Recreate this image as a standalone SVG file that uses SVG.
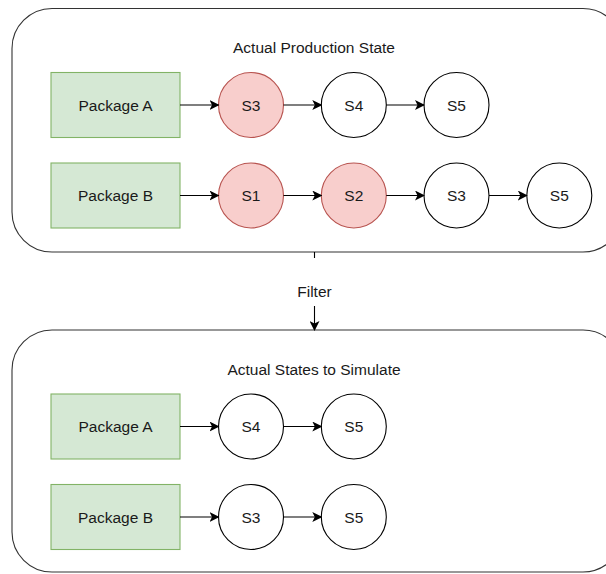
<svg xmlns="http://www.w3.org/2000/svg" width="606" height="574" viewBox="0 0 606 574">
<defs>
<marker id="arr" viewBox="0 0 10 10" refX="9" refY="5" markerWidth="10" markerHeight="10" markerUnits="userSpaceOnUse" orient="auto">
<path d="M0,0 L10,5 L0,10 L2.5,5 Z" fill="#000"/>
</marker>
<style>
text{font-family:"Liberation Sans",Arial,sans-serif;font-size:15.5px;fill:#1a1a1a;text-anchor:middle;dominant-baseline:central}
.cont{fill:#fff;stroke:#333;stroke-width:1.1}
.pkg{fill:#d5e8d4;stroke:#82b366;stroke-width:1.1}
.red{fill:#f8cecc;stroke:#b85450;stroke-width:1.1}
.wht{fill:#fff;stroke:#000;stroke-width:1.1}
.edge{stroke:#000;stroke-width:1.1;fill:none;marker-end:url(#arr)}
</style>
</defs>
<g id="top-container"><rect class="cont" x="12" y="8.5" width="611" height="243.5" rx="40" ry="40"/><text x="314" y="47">Actual Production State</text></g>
<g id="bottom-container"><rect class="cont" x="12" y="330" width="611" height="242" rx="40" ry="40"/><text x="314" y="369">Actual States to Simulate</text></g>
<g id="top-pkgA"><rect class="pkg" x="51" y="72.5" width="129" height="65"/><text x="115.5" y="105">Package A</text></g>
<g id="top-pkgB"><rect class="pkg" x="51" y="163" width="129" height="65"/><text x="115.5" y="195.5">Package B</text></g>
<g id="top-A-S3"><circle class="red" cx="251" cy="105" r="32.5"/><text x="251" y="105">S3</text></g>
<g id="top-A-S4"><circle class="wht" cx="353.8" cy="105" r="32.5"/><text x="353.8" y="105">S4</text></g>
<g id="top-A-S5"><circle class="wht" cx="456.5" cy="105" r="32.5"/><text x="456.5" y="105">S5</text></g>
<g id="top-B-S1"><circle class="red" cx="251" cy="195.5" r="32.5"/><text x="251" y="195.5">S1</text></g>
<g id="top-B-S2"><circle class="red" cx="353.8" cy="195.5" r="32.5"/><text x="353.8" y="195.5">S2</text></g>
<g id="top-B-S3"><circle class="wht" cx="456.5" cy="195.5" r="32.5"/><text x="456.5" y="195.5">S3</text></g>
<g id="top-B-S5"><circle class="wht" cx="559.3" cy="195.5" r="32.5"/><text x="559.3" y="195.5">S5</text></g>
<g id="bot-pkgA"><rect class="pkg" x="51" y="394" width="129" height="65"/><text x="115.5" y="426.5">Package A</text></g>
<g id="bot-pkgB"><rect class="pkg" x="51" y="484.5" width="129" height="65"/><text x="115.5" y="517">Package B</text></g>
<g id="bot-A-S4"><circle class="wht" cx="251" cy="426.5" r="32.5"/><text x="251" y="426.5">S4</text></g>
<g id="bot-A-S5"><circle class="wht" cx="353.8" cy="426.5" r="32.5"/><text x="353.8" y="426.5">S5</text></g>
<g id="bot-B-S3"><circle class="wht" cx="251" cy="517" r="32.5"/><text x="251" y="517">S3</text></g>
<g id="bot-B-S5"><circle class="wht" cx="353.8" cy="517" r="32.5"/><text x="353.8" y="517">S5</text></g>
<g id="connectors">
<path class="edge" d="M180,105 H218.5"/>
<path class="edge" d="M283.5,105 H321.3"/>
<path class="edge" d="M386.3,105 H424"/>
<path class="edge" d="M180,195.5 H218.5"/>
<path class="edge" d="M283.5,195.5 H321.3"/>
<path class="edge" d="M386.3,195.5 H424"/>
<path class="edge" d="M489,195.5 H526.8"/>
<path class="edge" d="M180,426.5 H218.5"/>
<path class="edge" d="M283.5,426.5 H321.3"/>
<path class="edge" d="M180,517 H218.5"/>
<path class="edge" d="M283.5,517 H321.3"/>
<path d="M314.5,252 V258" stroke="#000" stroke-width="1.1" fill="none"/>
<path class="edge" d="M314.5,306 V330"/>
<text x="314.5" y="291">Filter</text>
</g>
</svg>
